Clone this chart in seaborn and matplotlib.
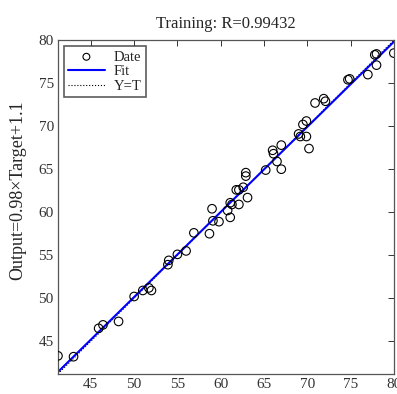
import numpy as np
import pandas as pd
import seaborn as sns
import matplotlib.pyplot as plt

# ── Data ──────────────────────────────────────────────────────────────────────
target = [41.2, 43.0, 45.9, 46.4, 48.2, 50.0, 51.0, 51.7, 52.0, 53.9,
          54.0, 55.0, 56.0, 56.9, 58.7, 59.0, 59.1, 59.8, 60.8, 61.1,
          61.1, 61.3, 62.1, 61.8, 62.1, 62.6, 63.1, 62.9, 62.9, 65.2,
          66.0, 66.1, 67.0, 66.5, 67.0, 69.0, 69.2, 69.9, 70.2, 69.5,
          69.9, 70.9, 71.9, 72.1, 74.7, 74.9, 77.0, 77.8, 78.0, 78.0,
          80.0]
output = [43.3, 43.2, 46.5, 46.9, 47.3, 50.2, 50.9, 51.2, 50.9, 53.9,
          54.4, 55.1, 55.5, 57.6, 57.5, 60.4, 59.0, 58.9, 60.2, 59.4,
          61.1, 60.9, 60.9, 62.6, 62.6, 62.9, 61.7, 64.6, 64.2, 64.9,
          67.2, 66.8, 67.8, 65.9, 65.0, 69.1, 68.8, 68.8, 67.4, 70.2,
          70.6, 72.7, 73.2, 72.9, 75.4, 75.5, 76.0, 78.3, 78.4, 77.1,
          78.5]
ticks = [45, 50, 55, 60, 65, 70, 75, 80]
title = "Training: R=0.99432"
ylabel = "Output=0.98\u00d7Target+1.1"

df = pd.DataFrame({"Target": target, "Output": output})

# ── Style ─────────────────────────────────────────────────────────────────────
sns.set_style("white")
plt.rcParams["font.family"] = ["Liberation Serif", "DejaVu Serif"]

fig = plt.figure(figsize=(3.97, 3.94), dpi=100)
ax = fig.add_axes([0.146, 0.051, 0.846, 0.847])

lo, hi = 41.2, 80.0
xs = np.linspace(lo, hi, 50)
slope, icpt = np.polyfit(df["Target"], df["Output"], 1)
lines = pd.DataFrame({"x": xs, "fit": slope * xs + icpt, "yt": xs})

sns.scatterplot(data=df, x="Target", y="Output", ax=ax, marker="o",
                s=38, facecolor="none", edgecolor="black", linewidth=0.8,
                label="Date", zorder=3)
sns.lineplot(data=lines, x="x", y="fit", ax=ax, color="#0000ff",
             linewidth=1.5, label="Fit", zorder=2)
sns.lineplot(data=lines, x="x", y="yt", ax=ax, color="black",
             linewidth=0.8, linestyle=":", label="Y=T", zorder=1)

ax.set_xlim(lo, hi)
ax.set_ylim(lo, hi)
ax.set_xticks(ticks)
ax.set_yticks(ticks)
ax.set_xlabel("")
ax.set_ylabel(ylabel, fontsize=13)
ax.yaxis.set_label_coords(-0.095, 0.55)
ax.set_title(title, fontsize=12, pad=9)
ax.tick_params(direction="in", length=4, width=0.7, top=True, right=True,
               labelsize=11, colors="#333333", pad=3)
for sp in ax.spines.values():
    sp.set_color("#555555")
    sp.set_linewidth(0.9)

leg = ax.legend(loc="upper left", fontsize=10.5, frameon=True, fancybox=False,
                borderpad=0.3, handlelength=2.5, labelspacing=0.1,
                borderaxespad=0.4, handletextpad=0.6, markerscale=0.8)
leg.get_frame().set_edgecolor("#333333")
leg.get_frame().set_linewidth(1.2)

fig.savefig("out.png", dpi=100)
